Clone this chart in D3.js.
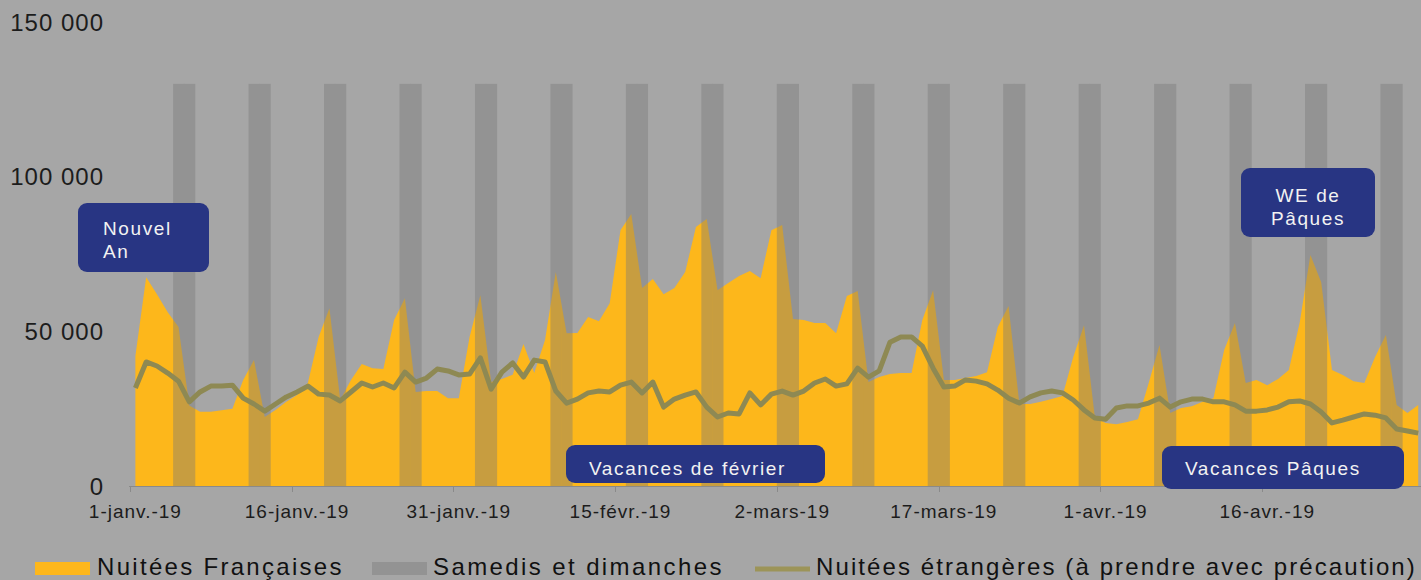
<!DOCTYPE html>
<html>
<head>
<meta charset="utf-8">
<script src="https://cdn.jsdelivr.net/npm/d3@7"></script>
<style>
  html, body { margin: 0; padding: 0; background: #a6a6a6; }
  svg { display: block; }
  text { font-family: "Liberation Sans", Arial, sans-serif; }
</style>
</head>
<body>
<svg id="chart" width="1421" height="580"></svg>
<script>
// ---------- DATA ----------
const startDate = "2019-01-01";
const nDays = 120; // 1 janv. 2019 -> 30 avr. 2019

const nuiteesFrancaises = [
  42000, 67500, 62000, 56200, 51400, 26000, 24000, 24000, 24500, 25000,
  34300, 40700, 22300, 24600, 27200, 29400, 33300, 48200, 57500, 27800,
  34300, 39400, 38100, 37800, 53700, 60700, 30400, 30700, 30700, 28400,
  28400, 48200, 61700, 33600, 34600, 36000, 45900, 36500, 47200, 69200,
  49400, 49500, 54600, 53300, 59100, 82700, 87900, 64000, 66900, 62000,
  64000, 69200, 83700, 86300, 63300, 65600, 67900, 69500, 67200, 82700,
  84400, 54000, 53700, 52700, 52700, 49400, 61400, 63000, 33600, 35200,
  36200, 36500, 36500, 53700, 63300, 34300, 34300, 34900, 35600, 36800,
  51400, 58200, 26500, 26500, 27200, 28100, 29100, 41700, 52000, 22300,
  20400, 20000, 20700, 21600, 33300, 45600, 23600, 25200, 25800, 27200,
  28400, 44000, 52700, 33300, 34300, 32600, 34600, 37500, 52700, 74700,
  65900, 37500, 35900, 33900, 33300, 41700, 48800, 26200, 23600, 26200
];

const nuiteesEtrangeres = [
  31700, 40100, 38800, 36500, 33900, 27200, 30400, 32300, 32300, 32600,
  28400, 26500, 24200, 26500, 28800, 30400, 32300, 29700, 29400, 27500,
  30400, 33300, 32000, 33300, 31700, 36800, 33600, 34900, 37800, 37200,
  35900, 36200, 41400, 31300, 36800, 39800, 35200, 40700, 40100, 30700,
  26800, 28100, 30100, 30700, 30400, 32600, 33600, 30100, 33600, 25500,
  28100, 29400, 30400, 25500, 22300, 23600, 23300, 30100, 26200, 29700,
  30700, 29400, 30700, 33300, 34600, 32300, 33000, 38100, 35200, 37200,
  46500, 48200, 48200, 45200, 38100, 32000, 32300, 34300, 33900, 33000,
  31000, 28400, 26800, 28800, 30100, 30700, 30100, 27800, 24600, 22000,
  21600, 25200, 25900, 25900, 26800, 28400, 25500, 27200, 28100, 28100,
  27200, 27200, 26200, 24200, 24200, 24600, 25500, 27200, 27500, 26500,
  23900, 20400, 21300, 22300, 23300, 22900, 22000, 18400, 17800, 17100
];

// Samedis et dimanches (bar series)
const weekendDates = [
  "2019-01-05","2019-01-06","2019-01-12","2019-01-13","2019-01-19","2019-01-20",
  "2019-01-26","2019-01-27","2019-02-02","2019-02-03","2019-02-09","2019-02-10",
  "2019-02-16","2019-02-17","2019-02-23","2019-02-24","2019-03-02","2019-03-03",
  "2019-03-09","2019-03-10","2019-03-16","2019-03-17","2019-03-23","2019-03-24",
  "2019-03-30","2019-03-31","2019-04-06","2019-04-07","2019-04-13","2019-04-14",
  "2019-04-20","2019-04-21","2019-04-27","2019-04-28"
];
const weekendValue = 130000;

const yTicks = [0, 50000, 100000, 150000];
const yTickLabels = ["0", "50 000", "100 000", "150 000"];
const xTickDates = ["2019-01-01","2019-01-16","2019-01-31","2019-02-15","2019-03-02","2019-03-17","2019-04-01","2019-04-16"];
const xTickLabels = ["1-janv.-19","16-janv.-19","31-janv.-19","15-févr.-19","2-mars-19","17-mars-19","1-avr.-19","16-avr.-19"];

const legendLabels = ["Nuitées Françaises", "Samedis et dimanches", "Nuitées étrangères (à prendre avec précaution)"];

const annotations = [
  { lines: ["Nouvel", "An"], x: 78, y: 203, w: 131, h: 69, anchor: "start", tx: 103, baselines: [235, 258] },
  { lines: ["WE de", "Pâques"], x: 1241, y: 168, w: 134, h: 69, anchor: "middle", tx: 1308, baselines: [202, 225] },
  { lines: ["Vacances de février"], x: 566, y: 445, w: 259, h: 38, anchor: "start", tx: 589, baselines: [475] },
  { lines: ["Vacances Pâques"], x: 1162, y: 446, w: 242, h: 43, anchor: "start", tx: 1185, baselines: [475] }
];

// ---------- SETUP ----------
const parse = d3.utcParse("%Y-%m-%d");
const fmt = d3.utcFormat("%Y-%m-%d");
const d0 = parse(startDate);
const days = d3.range(nDays).map(i => fmt(d3.utcDay.offset(d0, i)));

const BG = "#a6a6a6";
const YELLOW = "#fdb71b";
const LINE = "#8e8953";
const BLUE = "#283583";

const svg = d3.select("#chart");
svg.append("rect").attr("width", 1421).attr("height", 580).attr("fill", BG);

const dayW = 10.78;
const x = d3.scaleBand().domain(days).range([130, 130 + nDays * dayW]).padding(0);
const cx = d => x(d) + x.bandwidth() / 2;
const y = d3.scaleLinear().domain([0, 150000]).range([486, 22]);

const fr = days.map((d, i) => ({ d, v: nuiteesFrancaises[i] }));
const et = days.map((d, i) => ({ d, v: nuiteesEtrangeres[i] }));

// Area (Nuitées Françaises)
svg.append("path")
  .datum(fr)
  .attr("fill", YELLOW)
  .attr("d", d3.area().x(p => cx(p.d)).y0(y(0)).y1(p => y(p.v)));

// Weekend bars (group opacity so adjacent bars merge without seams)
const barG = svg.append("g").attr("opacity", 0.4);
barG.selectAll("rect").data(weekendDates).join("rect")
  .attr("x", d => x(d))
  .attr("width", x.bandwidth() + 0.6)
  .attr("y", y(weekendValue))
  .attr("height", y(0) - y(weekendValue))
  .attr("fill", "#787878");

// Line (Nuitées étrangères)
svg.append("path")
  .datum(et)
  .attr("fill", "none")
  .attr("stroke", LINE)
  .attr("stroke-width", 5)
  .attr("stroke-linejoin", "round")
  .attr("d", d3.line().x(p => cx(p.d)).y(p => y(p.v)));

// X axis
const xAxisG = svg.append("g");
xAxisG.append("line")
  .attr("x1", 129).attr("x2", 1421)
  .attr("y1", y(0) + 0.5).attr("y2", y(0) + 0.5)
  .attr("stroke", "#8a8a8a").attr("stroke-width", 1.2);
xAxisG.selectAll(".tick").data(xTickDates).join("line")
  .attr("x1", d => Math.round(x(d)) + 0.5).attr("x2", d => Math.round(x(d)) + 0.5)
  .attr("y1", y(0)).attr("y2", y(0) + 6)
  .attr("stroke", "#8a8a8a").attr("stroke-width", 1);
xAxisG.selectAll(".lbl").data(xTickDates).join("text")
  .attr("x", d => cx(d))
  .attr("y", 518)
  .attr("text-anchor", "middle")
  .attr("font-size", 19)
  .style("letter-spacing", "1px")
  .attr("fill", "#1c1c1c")
  .text((d, i) => xTickLabels[i]);

// Y axis labels
svg.selectAll(".ylbl").data(yTicks).join("text")
  .attr("x", 104)
  .attr("y", d => y(d) + 8.5)
  .attr("text-anchor", "end")
  .attr("font-size", 24)
  .style("letter-spacing", "1px")
  .attr("fill", "#1c1c1c")
  .text((d, i) => yTickLabels[i]);

// Annotations
annotations.forEach(a => {
  const g = svg.append("g");
  g.append("rect")
    .attr("x", a.x).attr("y", a.y).attr("width", a.w).attr("height", a.h)
    .attr("rx", 9).attr("ry", 9)
    .attr("fill", BLUE);
  a.lines.forEach((t, i) => {
    g.append("text")
      .attr("x", a.tx).attr("y", a.baselines[i])
      .attr("text-anchor", a.anchor)
      .attr("font-size", 19)
      .style("letter-spacing", "1.6px")
      .attr("fill", "#f2f2f2")
      .text(t);
  });
});

// Legend
const lg = svg.append("g");
lg.append("rect").attr("x", 35).attr("y", 562).attr("width", 55).attr("height", 13).attr("fill", YELLOW);
lg.append("text").attr("x", 97).attr("y", 575).attr("font-size", 24).style("letter-spacing", "2.3px").attr("fill", "#111").text(legendLabels[0]);
lg.append("rect").attr("x", 372).attr("y", 562).attr("width", 55).attr("height", 13).attr("fill", "#939393");
lg.append("text").attr("x", 433).attr("y", 575).attr("font-size", 24).style("letter-spacing", "2.4px").attr("fill", "#111").text(legendLabels[1]);
lg.append("line").attr("x1", 755).attr("x2", 810).attr("y1", 569).attr("y2", 569).attr("stroke", "#9c9458").attr("stroke-width", 5);
lg.append("text").attr("x", 816).attr("y", 575).attr("font-size", 24).style("letter-spacing", "2.1px").attr("fill", "#111").text(legendLabels[2]);
</script>
</body>
</html>
